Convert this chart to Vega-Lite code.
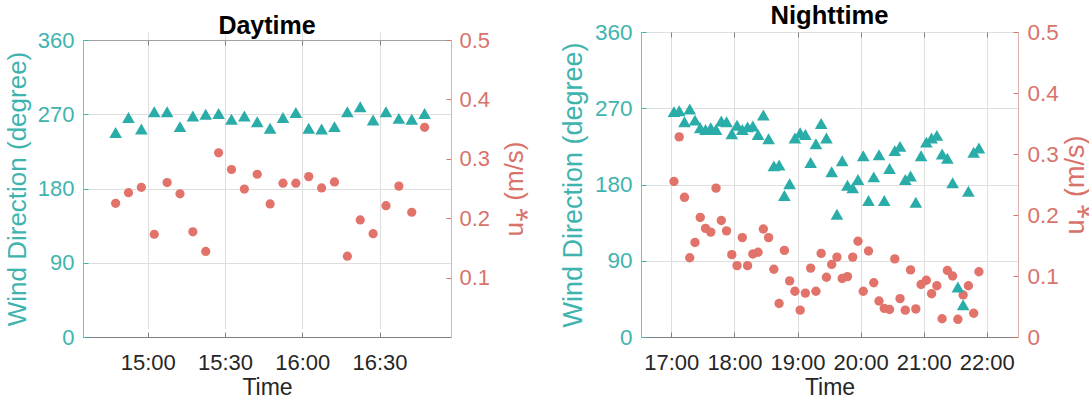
{
  "$schema": "https://vega.github.io/schema/vega-lite/v6.json",
  "background": "white",
  "padding": {"left": 4, "top": 3, "right": 0, "bottom": 0},
  "spacing": 30,
  "config": {
    "font": "Liberation Sans",
    "view": {"stroke": "#a3a3a3", "strokeWidth": 1},
    "axis": {"labelFont": "Liberation Sans", "titleFont": "Liberation Sans", "titleFontWeight": "normal", "labelOverlap": false, "gridColor": "#dedede", "gridOpacity": 1, "gridWidth": 1}
  },
  "datasets": {
    "day": [
      {"t": "2021-06-01T14:47:30", "dir": 248, "u": 0.225},
      {"t": "2021-06-01T14:52:30", "dir": 266, "u": 0.243},
      {"t": "2021-06-01T14:57:30", "dir": 252, "u": 0.252},
      {"t": "2021-06-01T15:02:30", "dir": 273, "u": 0.173},
      {"t": "2021-06-01T15:07:30", "dir": 273, "u": 0.260},
      {"t": "2021-06-01T15:12:30", "dir": 255, "u": 0.241},
      {"t": "2021-06-01T15:17:30", "dir": 268, "u": 0.177},
      {"t": "2021-06-01T15:22:30", "dir": 270, "u": 0.144},
      {"t": "2021-06-01T15:27:30", "dir": 271, "u": 0.310},
      {"t": "2021-06-01T15:32:30", "dir": 264, "u": 0.282},
      {"t": "2021-06-01T15:37:30", "dir": 268, "u": 0.249},
      {"t": "2021-06-01T15:42:30", "dir": 261, "u": 0.274},
      {"t": "2021-06-01T15:47:30", "dir": 253, "u": 0.224},
      {"t": "2021-06-01T15:52:30", "dir": 266, "u": 0.259},
      {"t": "2021-06-01T15:57:30", "dir": 272, "u": 0.259},
      {"t": "2021-06-01T16:02:30", "dir": 253, "u": 0.270},
      {"t": "2021-06-01T16:07:30", "dir": 252, "u": 0.251},
      {"t": "2021-06-01T16:12:30", "dir": 255, "u": 0.261},
      {"t": "2021-06-01T16:17:30", "dir": 273, "u": 0.136},
      {"t": "2021-06-01T16:22:30", "dir": 279, "u": 0.197},
      {"t": "2021-06-01T16:27:30", "dir": 263, "u": 0.174},
      {"t": "2021-06-01T16:32:30", "dir": 273, "u": 0.221},
      {"t": "2021-06-01T16:37:30", "dir": 265, "u": 0.254},
      {"t": "2021-06-01T16:42:30", "dir": 264, "u": 0.210},
      {"t": "2021-06-01T16:47:30", "dir": 271, "u": 0.353}
    ],
    "night": [
      {"t": "2021-06-01T17:02:30", "dir": 266, "u": 0.255},
      {"t": "2021-06-01T17:07:30", "dir": 267, "u": 0.328},
      {"t": "2021-06-01T17:12:30", "dir": 254, "u": 0.229},
      {"t": "2021-06-01T17:17:30", "dir": 269, "u": 0.130},
      {"t": "2021-06-01T17:22:30", "dir": 256, "u": 0.155},
      {"t": "2021-06-01T17:27:30", "dir": 247, "u": 0.196},
      {"t": "2021-06-01T17:32:30", "dir": 245, "u": 0.178},
      {"t": "2021-06-01T17:37:30", "dir": 247, "u": 0.172},
      {"t": "2021-06-01T17:42:30", "dir": 245, "u": 0.244},
      {"t": "2021-06-01T17:47:30", "dir": 255, "u": 0.191},
      {"t": "2021-06-01T17:52:30", "dir": 254, "u": 0.174},
      {"t": "2021-06-01T17:57:30", "dir": 240, "u": 0.135},
      {"t": "2021-06-01T18:02:30", "dir": 250, "u": 0.117},
      {"t": "2021-06-01T18:07:30", "dir": 245, "u": 0.163},
      {"t": "2021-06-01T18:12:30", "dir": 248, "u": 0.117},
      {"t": "2021-06-01T18:17:30", "dir": 249, "u": 0.136},
      {"t": "2021-06-01T18:22:30", "dir": 239, "u": 0.139},
      {"t": "2021-06-01T18:27:30", "dir": 262, "u": 0.177},
      {"t": "2021-06-01T18:32:30", "dir": 234, "u": 0.163},
      {"t": "2021-06-01T18:37:30", "dir": 202, "u": 0.111},
      {"t": "2021-06-01T18:42:30", "dir": 203, "u": 0.055},
      {"t": "2021-06-01T18:47:30", "dir": 167, "u": 0.142},
      {"t": "2021-06-01T18:52:30", "dir": 181, "u": 0.092},
      {"t": "2021-06-01T18:57:30", "dir": 235, "u": 0.075},
      {"t": "2021-06-01T19:02:30", "dir": 241, "u": 0.044},
      {"t": "2021-06-01T19:07:30", "dir": 239, "u": 0.072},
      {"t": "2021-06-01T19:12:30", "dir": 206, "u": 0.113},
      {"t": "2021-06-01T19:17:30", "dir": 228, "u": 0.075},
      {"t": "2021-06-01T19:22:30", "dir": 252, "u": 0.137},
      {"t": "2021-06-01T19:27:30", "dir": 235, "u": 0.098},
      {"t": "2021-06-01T19:32:30", "dir": 195, "u": 0.119},
      {"t": "2021-06-01T19:37:30", "dir": 145, "u": 0.131},
      {"t": "2021-06-01T19:42:30", "dir": 208, "u": 0.096},
      {"t": "2021-06-01T19:47:30", "dir": 179, "u": 0.099},
      {"t": "2021-06-01T19:52:30", "dir": 176, "u": 0.131},
      {"t": "2021-06-01T19:57:30", "dir": 186, "u": 0.157},
      {"t": "2021-06-01T20:02:30", "dir": 214, "u": 0.075},
      {"t": "2021-06-01T20:07:30", "dir": 161, "u": 0.141},
      {"t": "2021-06-01T20:12:30", "dir": 189, "u": 0.089},
      {"t": "2021-06-01T20:17:30", "dir": 215, "u": 0.059},
      {"t": "2021-06-01T20:22:30", "dir": 161, "u": 0.047},
      {"t": "2021-06-01T20:27:30", "dir": 199, "u": 0.045},
      {"t": "2021-06-01T20:32:30", "dir": 220, "u": 0.128},
      {"t": "2021-06-01T20:37:30", "dir": 225, "u": 0.063},
      {"t": "2021-06-01T20:42:30", "dir": 186, "u": 0.044},
      {"t": "2021-06-01T20:47:30", "dir": 190, "u": 0.110},
      {"t": "2021-06-01T20:52:30", "dir": 159, "u": 0.046},
      {"t": "2021-06-01T20:57:30", "dir": 214, "u": 0.086},
      {"t": "2021-06-01T21:02:30", "dir": 230, "u": 0.093},
      {"t": "2021-06-01T21:07:30", "dir": 235, "u": 0.071},
      {"t": "2021-06-01T21:12:30", "dir": 238, "u": 0.084},
      {"t": "2021-06-01T21:17:30", "dir": 216, "u": 0.030},
      {"t": "2021-06-01T21:22:30", "dir": 211, "u": 0.109},
      {"t": "2021-06-01T21:27:30", "dir": 182, "u": 0.100},
      {"t": "2021-06-01T21:32:30", "dir": 59, "u": 0.029},
      {"t": "2021-06-01T21:37:30", "dir": 38, "u": 0.069},
      {"t": "2021-06-01T21:42:30", "dir": 172, "u": 0.084},
      {"t": "2021-06-01T21:47:30", "dir": 218, "u": 0.039},
      {"t": "2021-06-01T21:52:30", "dir": 223, "u": 0.107}
    ]
  },
  "hconcat": [
    {
      "width": 368,
      "height": 305,
      "view": {"stroke": null},
      "title": {"text": "Daytime", "fontSize": 25, "offset": 0, "dy": 9.5, "frame": "group", "anchor": "middle", "font": "Liberation Sans", "fontWeight": "bold", "color": "#000000"},
      "data": {"name": "day"},
      "layer": [
        {
          "mark": {"type": "point", "shape": "circle", "filled": true, "size": 85, "color": "#E2736A", "opacity": 1},
          "encoding": {
            "x": {"field": "t", "type": "temporal",
              "scale": {"nice": false, "domain": [{"year": 2021, "month": 6, "date": 1, "hours": 14, "minutes": 34, "seconds": 50}, {"year": 2021, "month": 6, "date": 1, "hours": 16, "minutes": 57, "seconds": 45}]},
              "axis": {"orient": "top", "offset": -8, "minExtent": 0, "labels": false, "domain": true, "domainColor": "#a3a3a3", "grid": false, "tickSize": -5, "tickColor": "#808080", "title": null,
                "values": [{"year": 2021, "month": 6, "date": 1, "hours": 15, "minutes": 0}, {"year": 2021, "month": 6, "date": 1, "hours": 15, "minutes": 30}, {"year": 2021, "month": 6, "date": 1, "hours": 16, "minutes": 0}, {"year": 2021, "month": 6, "date": 1, "hours": 16, "minutes": 30}]}},
            "y": {"field": "u", "type": "quantitative", "scale": {"domain": [0, 0.5], "nice": false, "range": [305, 8]},
              "axis": {"orient": "right", "values": [0.1, 0.2, 0.3, 0.4, 0.5], "format": "~g", "grid": false, "labelColor": "#D8736B", "labelFontSize": 22, "labelPadding": 13, "tickSize": -5, "tickColor": "#D8736B", "domainColor": "#DDB0AC", "title": "u⁎  (m/s)", "titleColor": "#D8736B", "titleFontSize": 26, "titleAngle": 270, "titleBaseline": "top", "titlePadding": 12}}
          }
        },
        {
          "mark": {"type": "point", "shape": "triangle-up", "filled": true, "size": 160, "color": "#2AADA8", "opacity": 1},
          "encoding": {
            "x": {"field": "t", "type": "temporal",
              "scale": {"nice": false, "domain": [{"year": 2021, "month": 6, "date": 1, "hours": 14, "minutes": 34, "seconds": 50}, {"year": 2021, "month": 6, "date": 1, "hours": 16, "minutes": 57, "seconds": 45}]},
              "axis": {"orient": "bottom", "format": "%H:%M", "grid": true, "labelColor": "#262626", "labelFontSize": 22, "labelPadding": 20, "tickSize": -5, "tickColor": "#808080", "domainColor": "#808080", "title": "Time", "titleColor": "#262626", "titleFontSize": 23, "titlePadding": 3,
                "values": [{"year": 2021, "month": 6, "date": 1, "hours": 15, "minutes": 0}, {"year": 2021, "month": 6, "date": 1, "hours": 15, "minutes": 30}, {"year": 2021, "month": 6, "date": 1, "hours": 16, "minutes": 0}, {"year": 2021, "month": 6, "date": 1, "hours": 16, "minutes": 30}]}},
            "y": {"field": "dir", "type": "quantitative", "scale": {"domain": [0, 360], "nice": false, "range": [305, 8]},
              "axis": {"orient": "left", "values": [0, 90, 180, 270, 360], "grid": true, "labelColor": "#3FB4AF", "labelFontSize": 22, "labelPadding": 14, "tickSize": -5, "tickColor": "#3FB4AF", "domainColor": "#6CC4C0", "title": "Wind Direction  (degree)", "titleColor": "#3FB4AF", "titleFontSize": 26, "titlePadding": 7}}
          }
        }
      ],
      "resolve": {"scale": {"y": "independent"}, "axis": {"x": "independent"}}
    },
    {
      "width": 377,
      "height": 305,
      "title": {"text": "Nighttime", "fontSize": 25.6, "offset": 0, "dy": 8.25, "frame": "group", "anchor": "middle", "font": "Liberation Sans", "fontWeight": "bold", "color": "#000000"},
      "data": {"name": "night"},
      "layer": [
        {
          "mark": {"type": "point", "shape": "circle", "filled": true, "size": 88, "color": "#E2736A", "opacity": 1},
          "encoding": {
            "x": {"field": "t", "type": "temporal",
              "scale": {"nice": false, "domain": [{"year": 2021, "month": 6, "date": 1, "hours": 16, "minutes": 31, "seconds": 10}, {"year": 2021, "month": 6, "date": 1, "hours": 22, "minutes": 29, "seconds": 40}]},
              "axis": {"orient": "top", "minExtent": 0, "labels": false, "domain": false, "grid": false, "tickSize": -5, "tickColor": "#808080", "title": null,
                "values": [{"year": 2021, "month": 6, "date": 1, "hours": 17}, {"year": 2021, "month": 6, "date": 1, "hours": 18}, {"year": 2021, "month": 6, "date": 1, "hours": 19}, {"year": 2021, "month": 6, "date": 1, "hours": 20}, {"year": 2021, "month": 6, "date": 1, "hours": 21}, {"year": 2021, "month": 6, "date": 1, "hours": 22}]}},
            "y": {"field": "u", "type": "quantitative", "scale": {"domain": [0, 0.5], "nice": false},
              "axis": {"orient": "right", "values": [0, 0.1, 0.2, 0.3, 0.4, 0.5], "format": "~g", "grid": false, "labelColor": "#D8736B", "labelFontSize": 22.5, "labelPadding": 14, "tickSize": -5, "tickColor": "#D8736B", "domainColor": "#DDB0AC", "title": "u⁎  (m/s)", "titleColor": "#D8736B", "titleFontSize": 27, "titleAngle": 270, "titleBaseline": "top", "titlePadding": 4}}
          }
        },
        {
          "mark": {"type": "point", "shape": "triangle-up", "filled": true, "size": 160, "color": "#2AADA8", "opacity": 1},
          "encoding": {
            "x": {"field": "t", "type": "temporal",
              "scale": {"nice": false, "domain": [{"year": 2021, "month": 6, "date": 1, "hours": 16, "minutes": 31, "seconds": 10}, {"year": 2021, "month": 6, "date": 1, "hours": 22, "minutes": 29, "seconds": 40}]},
              "axis": {"orient": "bottom", "format": "%H:%M", "grid": true, "labelColor": "#262626", "labelFontSize": 22, "labelPadding": 20, "tickSize": -5, "tickColor": "#808080", "domainColor": "#808080", "title": "Time", "titleColor": "#262626", "titleFontSize": 23, "titlePadding": 3,
                "values": [{"year": 2021, "month": 6, "date": 1, "hours": 17}, {"year": 2021, "month": 6, "date": 1, "hours": 18}, {"year": 2021, "month": 6, "date": 1, "hours": 19}, {"year": 2021, "month": 6, "date": 1, "hours": 20}, {"year": 2021, "month": 6, "date": 1, "hours": 21}, {"year": 2021, "month": 6, "date": 1, "hours": 22}]}},
            "y": {"field": "dir", "type": "quantitative", "scale": {"domain": [0, 360], "nice": false},
              "axis": {"orient": "left", "values": [0, 90, 180, 270, 360], "grid": true, "labelColor": "#3FB4AF", "labelFontSize": 22.5, "labelPadding": 14, "tickSize": -5, "tickColor": "#3FB4AF", "domainColor": "#6CC4C0", "title": "Wind Direction  (degree)", "titleColor": "#3FB4AF", "titleFontSize": 27, "titlePadding": 7}}
          }
        }
      ],
      "resolve": {"scale": {"y": "independent"}, "axis": {"x": "independent"}}
    }
  ]
}
